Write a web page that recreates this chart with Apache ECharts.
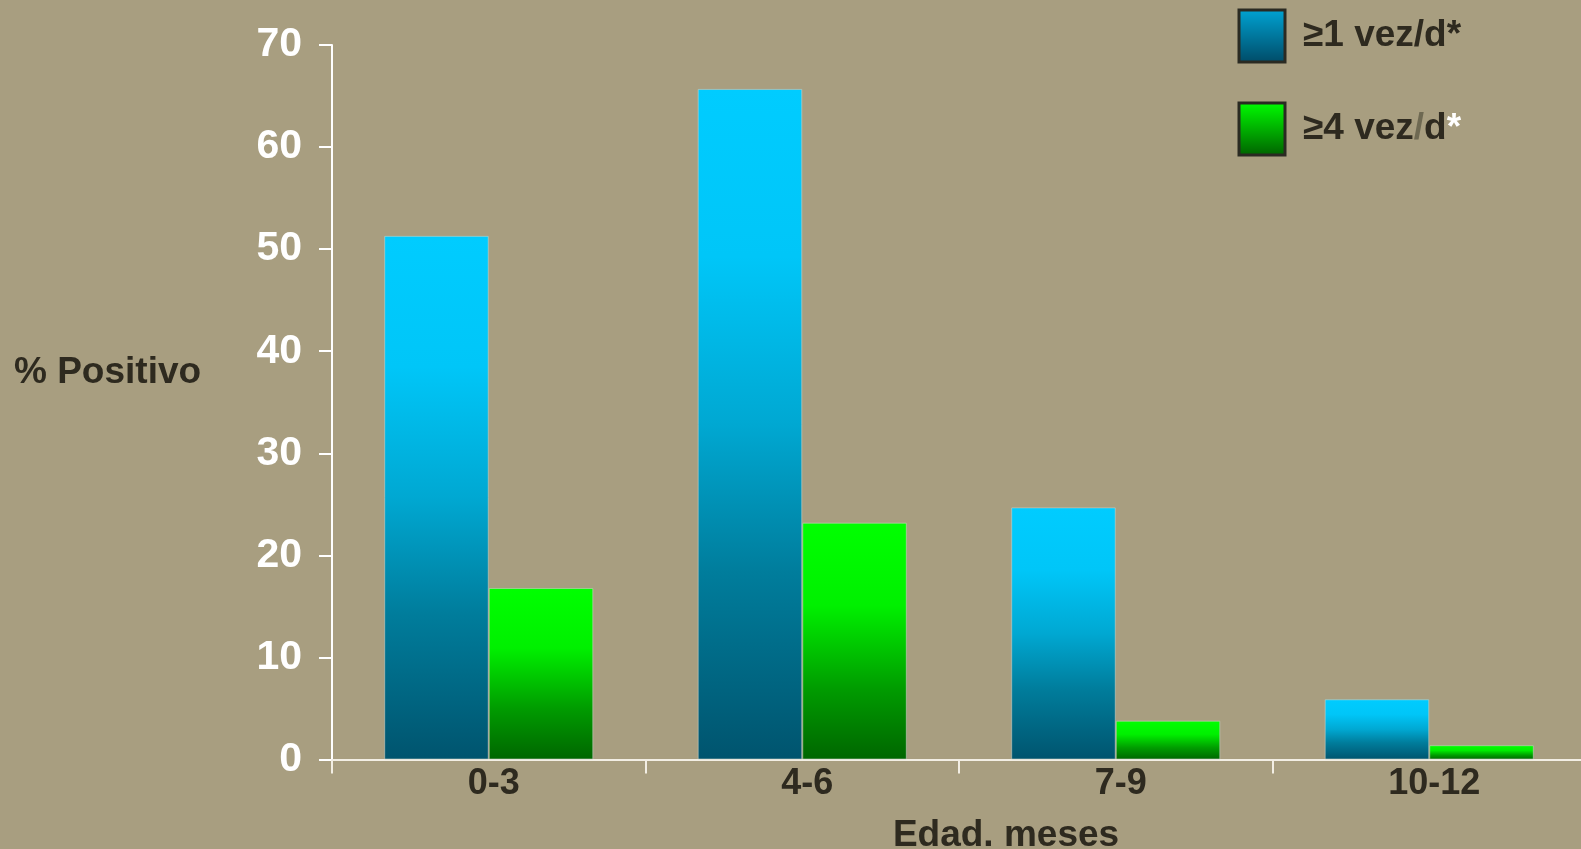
<!DOCTYPE html>
<html>
<head>
<meta charset="utf-8">
<title>% Positivo por edad</title>
<script src="https://cdn.jsdelivr.net/npm/echarts@6/dist/echarts.min.js"></script>
<style>
  html, body { margin: 0; padding: 0; background: #A89E80; }
  #chart { width: 1581px; height: 849px; }
</style>
</head>
<body>
<div id="chart"></div>
<script>
// Age groups (months) and share of positive results per frequency
const categories = ['0-3', '4-6', '7-9', '10-12'];
const seriesNames = ['\u22651 vez/d*', '\u22654 vez/d*'];
const unaVezDia = [51.3, 65.7, 24.7, 5.9];
const cuatroVecesDia = [16.8, 23.2, 3.8, 1.4];
const yMin = 0, yMax = 70, yStep = 10;

const darkText = '#2E2A1F';
const sansBold = 'Liberation Sans, Arial, Helvetica, sans-serif';

function vGrad(stops) {
  return new echarts.graphic.LinearGradient(0, 0, 0, 1,
    stops.map(([offset, color]) => ({ offset, color })));
}

const blueBar = vGrad([[0, '#00CCFF'], [0.25, '#00C6F8'], [0.5, '#00A8D2'], [0.72, '#007D9C'], [1, '#00546E']]);
const greenBar = vGrad([[0, '#00FF00'], [0.35, '#00F000'], [0.7, '#009C00'], [1, '#006600']]);
const blueKey = vGrad([[0, '#00A4D4'], [1, '#004A66']]);
const greenKey = vGrad([[0, '#00FF00'], [1, '#006000']]);

const chart = echarts.init(document.getElementById('chart'), null, { renderer: 'canvas' });

chart.setOption({
  backgroundColor: '#A89E80',
  animation: false,
  grid: {
    left: 332, width: 1254, top: 45, bottom: 89.5,
    containLabel: false,
    outerBoundsMode: 'none'
  },
  legend: {
    orient: 'vertical',
    left: 1237.5,
    top: 8.5,
    padding: 0,
    itemWidth: 46,
    itemHeight: 52,
    itemGap: 38,
    icon: 'rect',
    selectedMode: false,
    data: [
      { name: seriesNames[0], itemStyle: { color: blueKey, borderColor: '#2A2A22', borderWidth: 3 } },
      { name: seriesNames[1], itemStyle: { color: greenKey, borderColor: '#2A2A22', borderWidth: 3 } }
    ],
    formatter: function (name) {
      return name === seriesNames[1]
        ? '{a|\u22654 vez}{g|/}{a|d}{w|*}'
        : '{a|' + name + '}';
    },
    textStyle: {
      fontFamily: sansBold,
      fontWeight: 'bold',
      fontSize: 37,
      color: darkText,
      padding: [0, 0, 0, 13],
      rich: {
        a: { fontFamily: sansBold, fontWeight: 'bold', fontSize: 37, color: darkText },
        g: { fontFamily: sansBold, fontWeight: 'bold', fontSize: 37, color: '#6E6952' },
        w: { fontFamily: sansBold, fontWeight: 'bold', fontSize: 37, color: '#FFFFFF' }
      }
    }
  },
  xAxis: {
    type: 'category',
    data: categories,
    boundaryGap: true,
    axisLine: { show: true, lineStyle: { color: '#F2EEE4', width: 2 } },
    axisTick: { show: true, length: 14, alignWithLabel: false, lineStyle: { color: '#F2EEE4', width: 2 } },
    axisLabel: {
      margin: 7,
      padding: [0, 0, 0, 10],
      fontFamily: sansBold,
      fontWeight: 'bold',
      fontSize: 36,
      color: darkText
    },
    splitLine: { show: false }
  },
  yAxis: {
    type: 'value',
    min: yMin,
    max: yMax,
    interval: yStep,
    axisLine: { show: true, lineStyle: { color: '#FFFFFF', width: 2 } },
    axisTick: { show: true, length: 13, lineStyle: { color: '#FFFFFF', width: 2 } },
    axisLabel: {
      margin: 30,
      fontFamily: sansBold,
      fontWeight: 'bold',
      fontSize: 41,
      color: '#FFFFFF'
    },
    splitLine: { show: false }
  },
  graphic: [
    {
      type: 'text',
      left: 14,
      top: 354,
      style: { text: '% Positivo', font: 'bold 37px ' + sansBold, fill: darkText }
    },
    {
      type: 'text',
      x: 1006,
      y: 836,
      style: {
        text: 'Edad. meses',
        font: 'bold 37px ' + sansBold,
        fill: darkText,
        align: 'center',
        verticalAlign: 'middle'
      }
    }
  ],
  series: [
    {
      name: seriesNames[0],
      type: 'bar',
      data: unaVezDia,
      barGap: '0%',
      barCategoryGap: '33.3%',
      itemStyle: { color: blueBar, borderColor: 'rgba(205,212,200,0.55)', borderWidth: 1 }
    },
    {
      name: seriesNames[1],
      type: 'bar',
      data: cuatroVecesDia,
      barGap: '0%',
      barCategoryGap: '33.3%',
      itemStyle: { color: greenBar, borderColor: 'rgba(205,212,200,0.55)', borderWidth: 1 }
    }
  ]
});
</script>
</body>
</html>
